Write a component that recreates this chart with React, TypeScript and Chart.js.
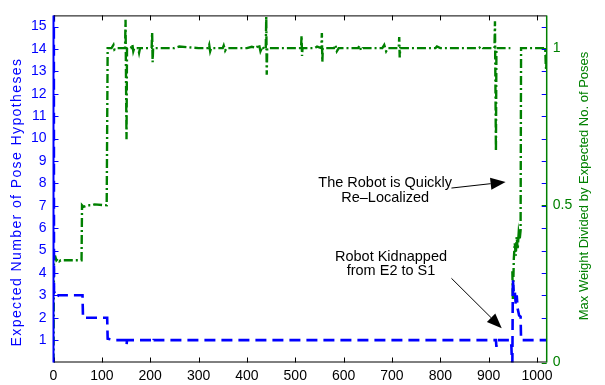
import { useEffect, useRef } from 'react';
import { Chart, registerables } from 'chart.js';

Chart.register(...registerables);

// ---- data ----
const blueFrames = [0, 1, 4, 7, 10, 60, 61, 111, 112, 125, 150, 151, 152, 205, 206, 207, 915, 916, 917, 946, 947, 948, 949, 950, 952, 954, 956, 958, 960, 963, 966, 967, 1020];
const blueValues = [40, 3.15, 3.1, 2.9, 3.0, 3.0, 2.0, 2.0, 1.06, 1.0, 1.0, 0.75, 1.0, 1.0, 0.9, 1.0, 1.0, 0.7, 1.0, 1.0, 0.7, 0.1, 0.0, 3.7, 3.1, 3.2, 2.6, 3.0, 2.4, 2.1, 2.05, 1.0, 1.0];

const greenFrames = [0, 1, 4, 6, 9, 12, 15, 58, 59, 62, 70, 80, 85, 110, 112, 120, 124, 126, 130, 148, 149, 151, 152, 160, 163, 165, 167, 175, 177, 179, 203, 204, 205, 206, 250, 260, 300, 320, 322, 324, 326, 350, 352, 355, 358, 400, 410, 420, 425, 428, 432, 436, 439, 440, 441, 442, 444, 490, 512, 513, 514, 515, 540, 545, 554, 555, 556, 557, 580, 583, 586, 590, 630, 633, 636, 640, 680, 684, 688, 692, 714, 715, 716, 717, 760, 790, 793, 800, 850, 880, 884, 888, 912, 913, 915, 916, 930, 945, 947, 949, 950, 951, 952, 954, 956, 958, 960, 962, 964, 966, 967, 990, 1017, 1018, 1019, 1020];
const greenValues = [0.0, 0.33, 0.335, 0.325, 0.33, 0.322, 0.325, 0.325, 0.5, 0.495, 0.5, 0.5, 0.503, 0.5, 1.0, 1.0, 1.01, 0.995, 1.0, 1.0, 1.09, 0.71, 1.0, 1.0, 1.012, 0.99, 1.0, 1.0, 0.985, 1.0, 1.0, 1.05, 0.955, 1.0, 1.0, 1.005, 1.0, 1.0, 1.01, 0.99, 1.0, 1.0, 1.008, 0.992, 1.0, 1.0, 1.004, 1.0, 1.012, 0.99, 1.005, 0.995, 1.0, 1.1, 0.915, 1.0, 1.0, 1.0, 1.0, 1.04, 0.975, 1.0, 1.0, 1.005, 1.0, 1.048, 0.956, 1.0, 1.0, 1.01, 0.99, 1.0, 1.0, 1.008, 0.993, 1.0, 1.0, 1.01, 0.99, 1.0, 1.0, 1.035, 0.97, 1.0, 1.0, 1.0, 1.005, 1.0, 1.0, 1.0, 1.006, 1.0, 1.0, 1.085, 0.672, 1.0, 1.0, 1.0, null, 0.29, 0.2, 0.26, 0.33, 0.38, 0.34, 0.4, 0.36, 0.41, 0.39, 0.42, 1.0, 1.0, 1.0, 0.95, 0.93, 1.0];

const xTicks = [0, 100, 200, 300, 400, 500, 600, 700, 800, 900, 1000];
const leftTicks = [1, 2, 3, 4, 5, 6, 7, 8, 9, 10, 11, 12, 13, 14, 15];
const rightTicks = [0, 0.5, 1];

const leftTitle = 'Expected Number of Pose Hypotheses';
const rightTitle = 'Max Weight Divided by Expected No. of Poses';
const note1 = ['The Robot is Quickly', 'Re\u2013Localized'];
const note2 = ['Robot Kidnapped', 'from E2 to S1'];
// annotation anchors in data units (x frame, y left axis)
const note1Pos = [686, 8.0];
const note2Pos = [698, 4.73];
const arrow1 = [823, 7.79, 935, 8.06];
const arrow2 = [823, 3.76, 927, 1.53];

const BLUE = '#0000ff';
const GREEN = '#008000';
const FONT = '"Liberation Sans", Arial, Helvetica, sans-serif';

const framePlugin = {
  id: 'frame',
  afterDraw(chart: any) {
    const { ctx, chartArea: a, scales } = chart;
    const sx = scales.x, sy = scales.y, sy2 = scales.y2;
    const seg = (x1: number, y1: number, x2: number, y2: number) => {
      ctx.beginPath();
      ctx.moveTo(x1, y1);
      ctx.lineTo(x2, y2);
      ctx.stroke();
    };
    ctx.save();
    ctx.setLineDash([]);
    // top & bottom box lines
    ctx.strokeStyle = '#000';
    ctx.lineWidth = 1;
    seg(a.left, a.top + 0.5, a.right, a.top + 0.5);
    seg(a.left, a.bottom - 0.5, a.right, a.bottom - 0.5);
    for (const v of xTicks) {
      const px = Math.round(sx.getPixelForValue(v)) + 0.5;
      seg(px, a.bottom, px, a.bottom - 5);
      seg(px, a.top, px, a.top + 5);
    }
    // left-axis ticks (both sides)
    ctx.strokeStyle = BLUE;
    for (const v of leftTicks) {
      const py = Math.round(sy.getPixelForValue(v)) + 0.5;
      seg(a.left, py, a.left + 5, py);
      seg(a.right, py, a.right - 5, py);
    }
    ctx.lineWidth = 2;
    seg(a.left, a.top, a.left, a.bottom);
    // right-axis ticks
    ctx.strokeStyle = GREEN;
    ctx.lineWidth = 1;
    for (const v of rightTicks) {
      const py = Math.round(sy2.getPixelForValue(v)) + 0.5;
      seg(a.right, py, a.right - 5, py);
    }
    ctx.lineWidth = 1.5;
    seg(a.right, a.top, a.right, a.bottom);

    // annotations
    ctx.fillStyle = '#000';
    ctx.font = `14.5px ${FONT}`;
    ctx.textAlign = 'center';
    ctx.textBaseline = 'middle';
    const drawNote = (lines: string[], pos: number[]) => {
      const px = sx.getPixelForValue(pos[0]);
      const py = sy.getPixelForValue(pos[1]);
      lines.forEach((t, i) => ctx.fillText(t, px, py + i * 14.5));
    };
    drawNote(note1, note1Pos);
    drawNote(note2, note2Pos);
    const drawArrow = (ar: number[]) => {
      const x1 = sx.getPixelForValue(ar[0]);
      const y1 = sy.getPixelForValue(ar[1]);
      const x2 = sx.getPixelForValue(ar[2]);
      const y2 = sy.getPixelForValue(ar[3]);
      const ang = Math.atan2(y2 - y1, x2 - x1);
      const len = 15, hw = 6;
      const bx = x2 - len * Math.cos(ang), by = y2 - len * Math.sin(ang);
      ctx.strokeStyle = '#000';
      ctx.lineWidth = 1;
      seg(x1, y1, bx, by);
      ctx.beginPath();
      ctx.moveTo(x2, y2);
      ctx.lineTo(bx + hw * Math.sin(ang), by - hw * Math.cos(ang));
      ctx.lineTo(bx - hw * Math.sin(ang), by + hw * Math.cos(ang));
      ctx.closePath();
      ctx.fill();
    };
    drawArrow(arrow1);
    drawArrow(arrow2);

    // axis titles (both read bottom-to-top)
    ctx.save();
    ctx.translate(17, 202);
    ctx.rotate(-Math.PI / 2);
    ctx.fillStyle = BLUE;
    ctx.font = `14px ${FONT}`;
    (ctx as any).letterSpacing = '1.4px';
    ctx.fillText(leftTitle, 0, 0);
    ctx.restore();
    ctx.save();
    ctx.translate(584, 186);
    ctx.rotate(-Math.PI / 2);
    ctx.fillStyle = GREEN;
    ctx.font = `13px ${FONT}`;
    ctx.fillText(rightTitle, 0, 0);
    ctx.restore();
    ctx.restore();
  },
};

export default function App() {
  const ref = useRef<HTMLCanvasElement | null>(null);
  useEffect(() => {
    if (!ref.current) return;
    const blueData = blueFrames.map((x, i) => ({ x, y: blueValues[i] }));
    const greenData = greenFrames.map((x, i) => ({ x, y: greenValues[i] }));
    const chart = new Chart(ref.current, {
      type: 'line',
      data: {
        datasets: [
          {
            label: 'Expected Number of Pose Hypotheses',
            data: blueData as any,
            yAxisID: 'y',
            borderColor: BLUE,
            borderWidth: 2.6,
            borderDash: [11, 6],
            pointRadius: 0,
            tension: 0,
            spanGaps: false,
          },
          {
            label: 'Max Weight Divided by Expected No. of Poses',
            data: greenData as any,
            yAxisID: 'y2',
            borderColor: GREEN,
            borderWidth: 2.4,
            borderDash: [9, 3, 2, 3],
            pointRadius: 0,
            tension: 0,
            spanGaps: false,
          },
        ],
      },
      options: {
        responsive: false,
        animation: false,
        layout: { padding: { top: 9, left: 0, right: 0, bottom: 0 } },
        plugins: { legend: { display: false }, tooltip: { enabled: false } },
        scales: {
          x: {
            type: 'linear',
            min: 0,
            max: 1020,
            afterFit: (s: any) => { s.height = 22.5; },
            afterBuildTicks: (s: any) => { s.ticks = xTicks.map((v) => ({ value: v })); },
            grid: { display: false, drawTicks: false },
            border: { display: false },
            ticks: { color: '#000', padding: 5, font: { family: FONT, size: 14 }, maxRotation: 0, autoSkip: false, callback: (v: any) => String(v) },
          },
          y: {
            type: 'linear',
            position: 'left',
            min: 0,
            max: 15.5,
            afterFit: (s: any) => { s.width = 53.5; },
            afterBuildTicks: (s: any) => { s.ticks = leftTicks.map((v) => ({ value: v })); },
            grid: { display: false, drawTicks: false },
            border: { display: false },
            ticks: { color: BLUE, padding: 7, font: { family: FONT, size: 14 }, autoSkip: false, callback: (v: any) => String(v) },
          },
          y2: {
            type: 'linear',
            position: 'right',
            min: 0,
            max: 1.104,
            afterFit: (s: any) => { s.width = 58.3; },
            afterBuildTicks: (s: any) => { s.ticks = rightTicks.map((v) => ({ value: v })); },
            grid: { display: false, drawTicks: false },
            border: { display: false },
            ticks: { color: GREEN, padding: 6, font: { family: FONT, size: 14 }, autoSkip: false, callback: (v: any) => String(v) },
          },
        },
      },
      plugins: [framePlugin],
    });
    return () => chart.destroy();
  }, []);
  return (
    <div style={{ position: 'absolute', left: 0, top: 0, width: 605, height: 385, background: '#fff' }}>
      <canvas ref={ref} width={605} height={385} />
    </div>
  );
}
